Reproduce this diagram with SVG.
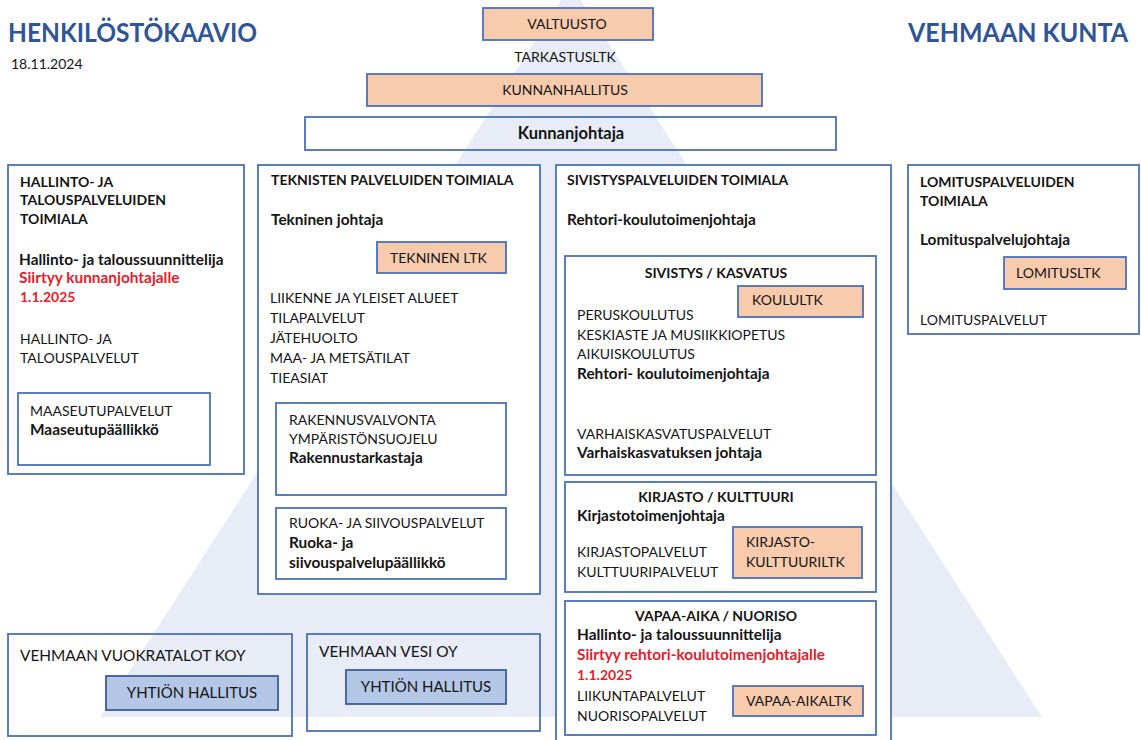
<svg xmlns="http://www.w3.org/2000/svg" width="1141" height="740" viewBox="0 0 1141 740">
<style>
.bg{fill:#fff}
.tri{fill:#e7ecf6}
.box{fill:#fff;stroke:#4a70bc;stroke-width:1.8}
.open{fill:none;stroke:#4a70bc;stroke-width:1.8}
.peach{fill:#f8cbad;stroke:#4a70bc;stroke-width:1.8}
.blue{fill:#b4c7e7;stroke:#3a5d9e;stroke-width:1.8}
text{font-family:Lato,"Liberation Sans",sans-serif;font-size:14px;fill:#141414}
.b{font-weight:bold}
.bm{font-weight:bold;font-size:15.4px}
.r{fill:#e3202b;font-weight:bold;font-size:15.4px}
.r1{fill:#e3202b;font-weight:bold}
.c{text-anchor:middle}
.big{font-size:15.4px}
.title{font-size:26px;font-weight:bold;fill:#2f5597}
</style>
<rect class="bg" x="0" y="0" width="1141" height="740"/>
<polygon class="tri" points="571,-15 1042,717 100,717"/>

<g id="header">
<text class="title" x="8" y="42" textLength="249" lengthAdjust="spacingAndGlyphs">HENKILÖSTÖKAAVIO</text>
<text x="11" y="69">18.11.2024</text>
<text class="title" x="1128" y="42" text-anchor="end" textLength="220" lengthAdjust="spacingAndGlyphs">VEHMAAN KUNTA</text>
</g>

<g id="connectors"></g>

<g id="valtuusto">
<rect class="peach" x="483" y="8" width="170" height="32"/>
<text class="c" x="567" y="29">VALTUUSTO</text>
</g>
<g id="tarkastusltk">
<text class="c" x="565" y="62">TARKASTUSLTK</text>
</g>
<g id="kunnanhallitus">
<rect class="peach" x="367" y="74" width="395" height="32"/>
<text class="c" x="565" y="95">KUNNANHALLITUS</text>
</g>
<g id="kunnanjohtaja">
<rect class="open" x="305" y="117" width="531" height="33"/>
<text class="c b" x="571" y="139" style="font-size:16.5px">Kunnanjohtaja</text>
</g>

<g id="hallinto">
<rect class="box" x="8" y="165" width="236" height="309"/>
<text class="b" x="20" y="187">HALLINTO- JA</text>
<text class="b" x="20" y="205">TALOUSPALVELUIDEN</text>
<text class="b" x="20" y="224">TOIMIALA</text>
<text class="bm" x="19" y="265">Hallinto- ja taloussuunnittelija</text>
<text class="r" x="19" y="283">Siirtyy kunnanjohtajalle</text>
<text class="r1" x="20" y="302">1.1.2025</text>
<text x="20" y="344">HALLINTO- JA</text>
<text x="20" y="363">TALOUSPALVELUT</text>
</g>
<g id="maaseutu">
<rect class="box" x="18" y="393" width="192" height="72"/>
<text x="30" y="416">MAASEUTUPALVELUT</text>
<text class="bm" x="30" y="435">Maaseutupäällikkö</text>
</g>

<g id="tekniset">
<rect class="box" x="258" y="165" width="282" height="429"/>
<text class="b" x="271" y="185">TEKNISTEN PALVELUIDEN TOIMIALA</text>
<text class="bm" x="271" y="225">Tekninen johtaja</text>
<text x="270" y="303">LIIKENNE JA YLEISET ALUEET</text>
<text x="270" y="323">TILAPALVELUT</text>
<text x="270" y="343">JÄTEHUOLTO</text>
<text x="270" y="363">MAA- JA METSÄTILAT</text>
<text x="270" y="383">TIEASIAT</text>
</g>
<g id="teknltk">
<rect class="peach" x="377" y="242" width="129" height="31"/>
<text x="390" y="263">TEKNINEN LTK</text>
</g>
<g id="rakennus">
<rect class="box" x="276" y="403" width="230" height="92"/>
<text x="289" y="425">RAKENNUSVALVONTA</text>
<text x="289" y="444">YMPÄRISTÖNSUOJELU</text>
<text class="bm" x="289" y="463">Rakennustarkastaja</text>
</g>
<g id="ruoka">
<rect class="box" x="276" y="508" width="230" height="71"/>
<text x="289" y="528">RUOKA- JA SIIVOUSPALVELUT</text>
<text class="bm" x="289" y="548">Ruoka- ja</text>
<text class="bm" x="289" y="568">siivouspalvelupäällikkö</text>
</g>

<g id="sivistys">
<rect class="box" x="556" y="165" width="335" height="580"/>
<text class="b" x="567" y="185">SIVISTYSPALVELUIDEN TOIMIALA</text>
<text class="bm" x="567" y="225">Rehtori-koulutoimenjohtaja</text>
</g>
<g id="kasvatus">
<rect class="box" x="565" y="256" width="311" height="219"/>
<text class="b c" x="716" y="278">SIVISTYS / KASVATUS</text>
<text x="577" y="320">PERUSKOULUTUS</text>
<text x="577" y="340">KESKIASTE JA MUSIIKKIOPETUS</text>
<text x="577" y="359">AIKUISKOULUTUS</text>
<text class="bm" x="577" y="379">Rehtori- koulutoimenjohtaja</text>
<text x="577" y="439">VARHAISKASVATUSPALVELUT</text>
<text class="bm" x="577" y="458">Varhaiskasvatuksen johtaja</text>
</g>
<g id="koulultk">
<rect class="peach" x="738" y="286" width="125" height="31"/>
<text x="752" y="305">KOULULTK</text>
</g>
<g id="kirjasto">
<rect class="box" x="565" y="482" width="311" height="110"/>
<text class="b c" x="716" y="502">KIRJASTO / KULTTUURI</text>
<text class="bm" x="577" y="521">Kirjastotoimenjohtaja</text>
<text x="577" y="557">KIRJASTOPALVELUT</text>
<text x="577" y="577">KULTTUURIPALVELUT</text>
</g>
<g id="kirjastoltk">
<rect class="peach" x="733" y="527" width="129" height="51"/>
<text x="746" y="547">KIRJASTO-</text>
<text x="746" y="567">KULTTUURILTK</text>
</g>
<g id="vapaa-aika">
<rect class="box" x="565" y="601" width="311" height="134"/>
<text class="b c" x="716" y="621">VAPAA-AIKA / NUORISO</text>
<text class="bm" x="577" y="640">Hallinto- ja taloussuunnittelija</text>
<text class="r" x="577" y="660">Siirtyy rehtori-koulutoimenjohtajalle</text>
<text class="r1" x="577" y="680">1.1.2025</text>
<text x="577" y="701">LIIKUNTAPALVELUT</text>
<text x="577" y="721">NUORISOPALVELUT</text>
</g>
<g id="vapaa-aikaltk">
<rect class="peach" x="733" y="686" width="130" height="30"/>
<text x="746" y="706">VAPAA-AIKALTK</text>
</g>

<g id="lomitus">
<rect class="box" x="908" y="165" width="231" height="169"/>
<text class="b" x="920" y="187">LOMITUSPALVELUIDEN</text>
<text class="b" x="920" y="206">TOIMIALA</text>
<text class="bm" x="920" y="245">Lomituspalvelujohtaja</text>
<text x="920" y="325">LOMITUSPALVELUT</text>
</g>
<g id="lomitusltk">
<rect class="peach" x="1004" y="257" width="122" height="32"/>
<text x="1016" y="278">LOMITUSLTK</text>
</g>

<g id="vuokratalot">
<rect class="open" x="8" y="634" width="284" height="102"/>
<text class="big" x="20" y="661">VEHMAAN VUOKRATALOT KOY</text>
</g>
<g id="vuokratalot-hallitus">
<rect class="blue" x="106" y="676" width="172" height="34"/>
<text class="c" x="192" y="698" style="font-size:15px">YHTIÖN HALLITUS</text>
</g>
<g id="vesi">
<rect class="open" x="307" y="634" width="233" height="97"/>
<text class="big" x="319" y="657">VEHMAAN VESI OY</text>
</g>
<g id="vesi-hallitus">
<rect class="blue" x="346" y="670" width="160" height="34"/>
<text class="c" x="426" y="692" style="font-size:15px">YHTIÖN HALLITUS</text>
</g>
</svg>
